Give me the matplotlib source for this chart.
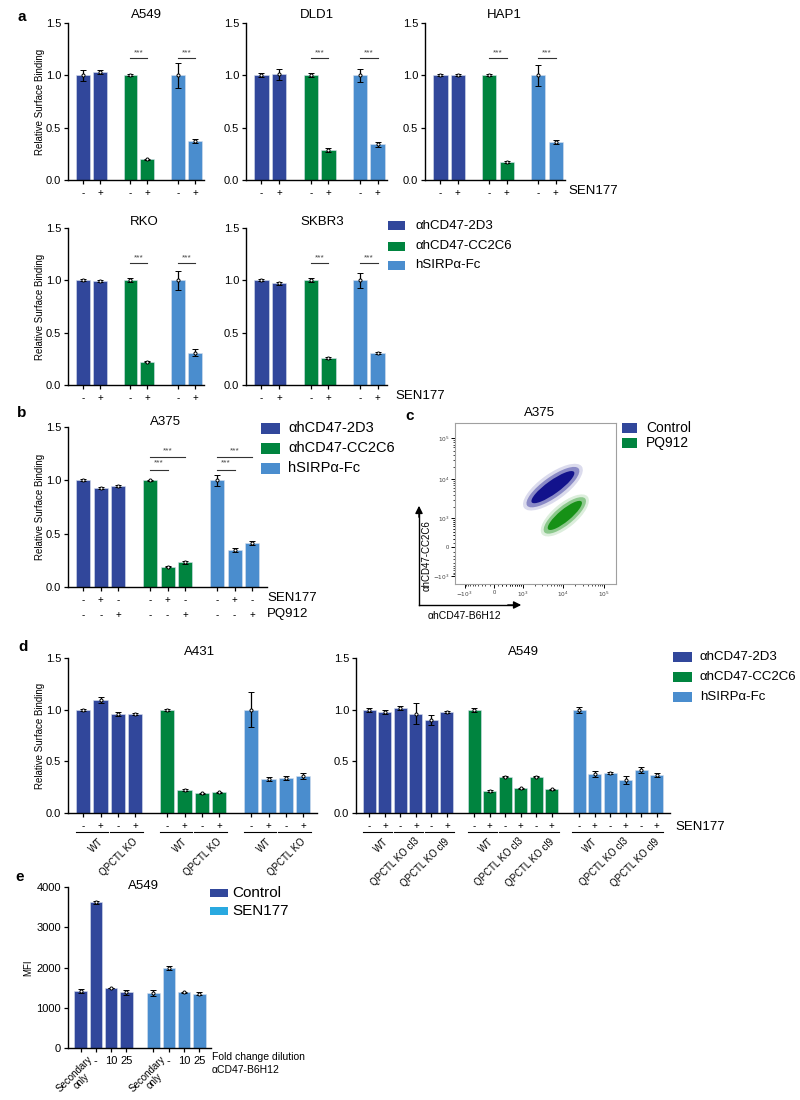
import matplotlib
matplotlib.use('Agg')
import matplotlib.pyplot as plt
from matplotlib.patches import Ellipse, Rectangle
import numpy as np

plt.rcParams['font.family'] = ['Liberation Sans', 'DejaVu Sans']

# ---- data ----
reagents = ['αhCD47-2D3', 'αhCD47-CC2C6', 'hSIRPα-Fc']
sen_pm = ['-', '+']

# panel a (mean, sd) per cell line, pairs: -/+ SEN177 for each reagent
a549_mean = [1.00, 1.03, 1.00, 0.20, 1.00, 0.37]
a549_err = [0.05, 0.02, 0.01, 0.005, 0.12, 0.02]
dld1_mean = [1.00, 1.01, 1.00, 0.29, 1.00, 0.34]
dld1_err = [0.02, 0.05, 0.02, 0.02, 0.06, 0.02]
hap1_mean = [1.00, 1.00, 1.00, 0.17, 1.00, 0.36]
hap1_err = [0.01, 0.01, 0.01, 0.01, 0.10, 0.02]
rko_mean = [1.00, 0.99, 1.00, 0.22, 1.00, 0.31]
rko_err = [0.01, 0.01, 0.02, 0.005, 0.09, 0.03]
skbr3_mean = [1.00, 0.97, 1.00, 0.26, 1.00, 0.31]
skbr3_err = [0.01, 0.01, 0.02, 0.01, 0.07, 0.01]

# panel b
a375_mean = [1.00, 0.93, 0.95, 1.00, 0.19, 0.23, 1.00, 0.35, 0.41]
a375_err = [0.01, 0.01, 0.01, 0.005, 0.005, 0.01, 0.05, 0.02, 0.02]
b_sen = ['-', '+', '-']
b_pq = ['-', '-', '+']

# panel c: cloud centres (fluorescence units, x = B6H12, y = CC2C6)
c_groups = ['Control', 'PQ912']
ctrl_center = (5600, 6200)
pq_center = (11000, 1200)
c_ticks = [-1e3, 0, 1e3, 1e4, 1e5]
c_ticklabels = [r'$-10^3$', '0', r'$10^3$', r'$10^4$', r'$10^5$']

# panel d
a431_mean = [1.00, 1.09, 0.96, 0.96, 1.00, 0.22, 0.19, 0.20, 1.00, 0.33, 0.34, 0.36]
a431_err = [0.01, 0.03, 0.02, 0.01, 0.01, 0.01, 0.005, 0.005, 0.17, 0.02, 0.02, 0.03]
a431_lines = ['WT', 'QPCTL KO']
a549d_mean = [1.00, 0.98, 1.02, 0.96, 0.90, 0.98, 1.00, 0.21, 0.35, 0.24, 0.35, 0.23,
              1.00, 0.38, 0.39, 0.32, 0.42, 0.37]
a549d_err = [0.02, 0.02, 0.02, 0.10, 0.05, 0.01, 0.02, 0.01, 0.005, 0.005, 0.005, 0.005,
             0.03, 0.03, 0.01, 0.04, 0.03, 0.02]
a549d_lines = ['WT', 'QPCTL KO cl3', 'QPCTL KO cl9']

# panel e
e_groups = ['Control', 'SEN177']
e_ctrl_mean = [1420, 3620, 1490, 1380]
e_ctrl_err = [50, 40, 10, 60]
e_sen_mean = [1370, 1990, 1380, 1350]
e_sen_err = [70, 40, 15, 30]
e_dil = ['', '-', '10', '25']

C_2D3 = '#31479b'
C_CC = '#00843f'
C_SIRP = '#4a8dce'
C_SEN = '#29a9e0'
reagent_cols = [C_2D3, C_CC, C_SIRP]

W, H = 800, 1100
fig = plt.figure(figsize=(8, 11), dpi=100)


def px_axes(l, r, t, b):
    return fig.add_axes([l / W, 1 - b / H, (r - l) / W, (b - t) / H])


def ftext(x, y, s, **kw):
    kw.setdefault('va', 'center')
    fig.text(x / W, 1 - y / H, s, **kw)


def legend_px(x, ys, w, h, cols, labels, fs, tx):
    for y, c, lab in zip(ys, cols, labels):
        fig.add_artist(Rectangle((x / W, 1 - (y + h / 2) / H), w / W, h / H,
                                 transform=fig.transFigure, facecolor=c, edgecolor='none'))
        ftext(tx, y, lab, fontsize=fs, ha='left')


def draw_bars(ax, means, errs, cols, n_per, gpitch, width=0.82):
    xs = []
    for g in range(len(means) // n_per):
        m = means[g * n_per:(g + 1) * n_per]
        e = errs[g * n_per:(g + 1) * n_per]
        x = g * gpitch + np.arange(n_per)
        ax.bar(x, m, width, color=cols[g], edgecolor='#d8e0ee', linewidth=0.4, zorder=2)
        ax.errorbar(x, m, yerr=e, fmt='o', ms=2.2, mfc='white', mec='black', mew=0.7,
                    ecolor='black', elinewidth=0.9, capsize=2.5, capthick=0.9, zorder=3)
        xs.extend(x)
    return np.array(xs, float)


def style(ax, xs, xlim, ylim, yticks, ylabels, left_px, right_px, ylab=None, lab_x=45):
    ax.set_xlim(*xlim)
    ax.set_ylim(*ylim)
    ax.set_yticks(yticks)
    ax.set_yticklabels(ylabels)
    ax.set_xticks(xs)
    for s in ['top', 'right']:
        ax.spines[s].set_visible(False)
    for s in ['left', 'bottom']:
        ax.spines[s].set_linewidth(1)
    ax.tick_params(axis='y', labelsize=8, length=3, width=0.9, pad=2)
    ax.tick_params(axis='x', labelsize=7, length=3, width=0.9, pad=3)
    if ylab:
        ax.set_ylabel(ylab, fontsize=7)
        ax.yaxis.set_label_coords((lab_x - left_px) / (right_px - left_px), 0.5)


def sig(ax, x1, x2, y, ty):
    ax.plot([x1, x2], [y, y], color='#333333', lw=0.8, zorder=3)
    ax.text((x1 + x2) / 2, ty, '***', ha='center', va='center', fontsize=6, color='#444444')


yt = [0, 0.5, 1.0, 1.5]
ytl = ['0.0', '0.5', '1.0', '1.5']

# ---- panel a ----
a_sets = [('A549', a549_mean, a549_err, (68, 204, 23, 180), 146, 15),
          ('DLD1', dld1_mean, dld1_err, (246, 387, 23, 180), 317, 15),
          ('HAP1', hap1_mean, hap1_err, (425, 565, 23, 180), 504, 15),
          ('RKO', rko_mean, rko_err, (68, 204, 228, 385), 144, 222),
          ('SKBR3', skbr3_mean, skbr3_err, (246, 387, 228, 385), 322, 222)]
for name, m, e, (l, r, t, b), tx, ty in a_sets:
    ax = px_axes(l, r, t, b)
    xs = draw_bars(ax, m, e, reagent_cols, 2, 2.8)
    style(ax, xs, (-0.88, 7.13), (0, 1.5), yt, ytl, l, r,
          'Relative Surface Binding' if l == 68 else None)
    ax.set_xticklabels(sen_pm * 3)
    for g in (1, 2):
        sig(ax, xs[2 * g], xs[2 * g + 1], 1.165, 1.215)
    ftext(tx, ty, name, fontsize=9.5, ha='center')
ftext(568, 191, 'SEN177', fontsize=9.5, ha='left')
ftext(395, 396, 'SEN177', fontsize=9.5, ha='left')
legend_px(388, [226, 246, 265], 17, 9, reagent_cols, reagents, 9.5, 415)

# ---- panel b ----
axb = px_axes(68, 267, 427, 587)
xs = draw_bars(axb, a375_mean, a375_err, reagent_cols, 3, 3.85)
style(axb, xs, (-0.88, 10.56), (0, 1.5), yt, ytl, 68, 267, 'Relative Surface Binding')
axb.set_xticklabels([s + '\n' + p for s, p in zip(b_sen * 3, b_pq * 3)], linespacing=1.55)
for g in (1, 2):
    sig(axb, xs[3 * g], xs[3 * g + 1], 1.10, 1.16)
    sig(axb, xs[3 * g], xs[3 * g + 2], 1.215, 1.275)
ftext(165, 422, 'A375', fontsize=9.5, ha='center')
ftext(267, 598, 'SEN177', fontsize=9.5, ha='left')
ftext(267, 614, 'PQ912', fontsize=9.5, ha='left')
legend_px(261, [428, 448, 468], 19, 11, reagent_cols, reagents, 10.5, 288)

# ---- panel c ----
def to_u(v):
    return np.arcsinh(np.asarray(v, float) / 400.0)

axc = px_axes(455, 616, 423, 584)
axc.set_xlim(-2.2, 6.9)
axc.set_ylim(-2.1, 7.1)
clouds = [(ctrl_center, '#12128c', 3.6, 1.05, 36), (pq_center, '#169116', 3.0, 0.95, 40)]
for (cx, cy), col, L, Wd, ang in clouds:
    ux, uy = to_u(cx), to_u(cy)
    for sc_l, sc_w, al in [(1.12, 1.45, 0.15), (1.0, 1.1, 0.4), (0.82, 0.72, 1.0)]:
        axc.add_patch(Ellipse((ux, uy), L * sc_l, Wd * sc_w, angle=ang,
                              facecolor=col, edgecolor='none', alpha=al))
minor_vals = [k * 10.0 ** d for d in (2, 3, 4) for k in range(2, 10)]
minor_vals += [-k * 100.0 for k in range(1, 10)] + [k * 100.0 for k in range(1, 10)]
for axis in (axc.xaxis, axc.yaxis):
    axis.set_ticks(to_u(c_ticks))
    axis.set_ticklabels(c_ticklabels)
    axis.set_ticks(to_u(minor_vals), minor=True)
axc.tick_params(which='major', labelsize=4.2, labelcolor='#444444', length=3, width=0.7, pad=1)
axc.tick_params(which='minor', length=1.6, width=0.5)
for s in axc.spines.values():
    s.set_color('#a0a0a0')
    s.set_linewidth(0.8)
ftext(539, 413, 'A375', fontsize=9.5, ha='center')
legend_px(622, [428, 443], 15, 10, [C_2D3, C_CC], c_groups, 10, 646)
fig.add_artist(plt.Line2D([419 / W, 419 / W], [1 - 605 / H, 1 - 512 / H], color='black', lw=1))
fig.add_artist(plt.Line2D([419 / W, 515 / W], [1 - 605 / H, 1 - 605 / H], color='black', lw=1))
axc.annotate('', xy=(419 / W, 1 - 503 / H), xytext=(419 / W, 1 - 520 / H),
             xycoords='figure fraction', textcoords='figure fraction',
             arrowprops=dict(arrowstyle='-|>', color='black', lw=1, mutation_scale=11))
axc.annotate('', xy=(524 / W, 1 - 605 / H), xytext=(505 / W, 1 - 605 / H),
             xycoords='figure fraction', textcoords='figure fraction',
             arrowprops=dict(arrowstyle='-|>', color='black', lw=1, mutation_scale=11))
ftext(427, 556, 'αhCD47-CC2C6', fontsize=7, ha='center', rotation=90)
ftext(428, 616, 'αhCD47-B6H12', fontsize=7.5, ha='left')

# ---- panel d ----
def pair_labels(ax, xs, names, y_line, y_text):
    tr = ax.get_xaxis_transform()
    for k in range(len(xs) // 2):
        x0, x1 = xs[2 * k], xs[2 * k + 1]
        ax.plot([x0 - 0.44, x1 + 0.44], [y_line, y_line], transform=tr, color='black',
                lw=0.8, clip_on=False)
        ax.text((x0 + x1) / 2 + 0.35, y_text, names[k % len(names)], transform=tr,
                rotation=45, rotation_mode='anchor', ha='right', va='top', fontsize=7)

axd1 = px_axes(68, 317, 658, 813)
xs = draw_bars(axd1, a431_mean, a431_err, reagent_cols, 4, 4.85)
style(axd1, xs, (-0.88, 13.5), (0, 1.5), yt, ytl, 68, 317, 'Relative Surface Binding')
axd1.set_xticklabels(sen_pm * 6)
pair_labels(axd1, xs, a431_lines, -0.123, -0.15)
ftext(200, 652, 'A431', fontsize=9.5, ha='center')

axd2 = px_axes(356, 670, 658, 813)
xs = draw_bars(axd2, a549d_mean, a549d_err, reagent_cols, 6, 6.77, width=0.84)
style(axd2, xs, (-0.87, 19.4), (0, 1.5), yt, ytl, 356, 670)
axd2.set_xticklabels(sen_pm * 9)
pair_labels(axd2, xs, a549d_lines, -0.123, -0.15)
ftext(523, 652, 'A549', fontsize=9.5, ha='center')
ftext(675, 827, 'SEN177', fontsize=9.5, ha='left')
legend_px(673, [657, 677, 697], 19, 10, reagent_cols, reagents, 9.5, 700)

# ---- panel e ----
axe = px_axes(68, 211, 887, 1048)
xs = draw_bars(axe, e_ctrl_mean + e_sen_mean, e_ctrl_err + e_sen_err, [C_2D3, C_SIRP], 4, 4.77)
style(axe, xs, (-0.82, 8.53), (0, 4000), [0, 1000, 2000, 3000, 4000],
      ['0', '1000', '2000', '3000', '4000'], 68, 211, 'MFI', lab_x=33)
axe.set_xticklabels(e_dil * 2)
axe.tick_params(axis='x', labelsize=8)
for x0 in (xs[0], xs[4]):
    axe.text(x0 + 0.45, -0.04, 'Secondary\nonly', transform=axe.get_xaxis_transform(),
             rotation=45, rotation_mode='anchor', ha='right', va='top', ma='center',
             fontsize=7, linespacing=1.0)
ftext(143, 886, 'A549', fontsize=9.5, ha='center')
ftext(212, 1057, 'Fold change dilution', fontsize=7.5, ha='left')
ftext(212, 1070, 'αCD47-B6H12', fontsize=7.5, ha='left')
legend_px(210, [893, 911], 18, 8, [C_2D3, C_SEN], e_groups, 11, 232)

# panel letters
for let, x, y in [('a', 22, 17), ('b', 22, 413), ('c', 410, 416), ('d', 23, 647), ('e', 20, 877)]:
    ftext(x, y, let, fontsize=11, fontweight='bold', ha='center')

fig.savefig('out.png', dpi=100)
